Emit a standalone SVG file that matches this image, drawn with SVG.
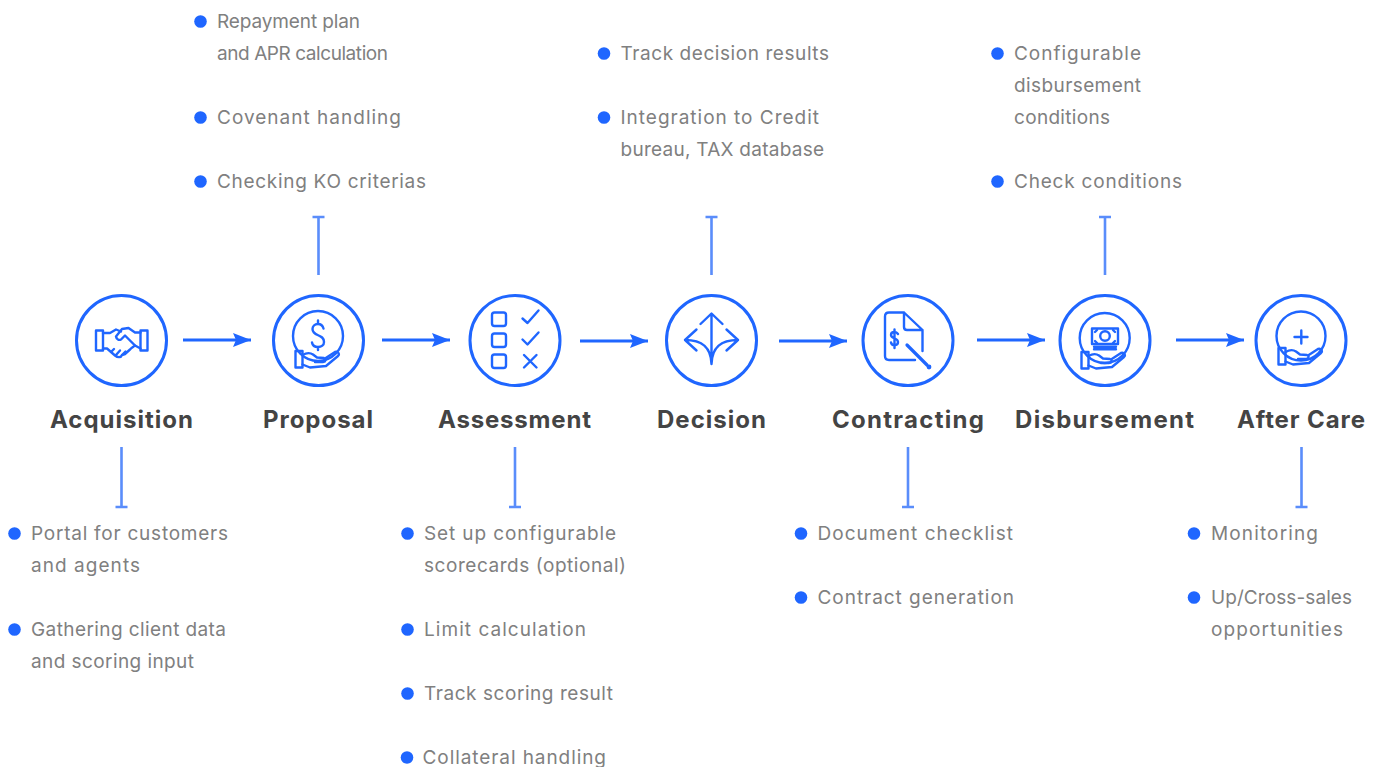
<svg xmlns="http://www.w3.org/2000/svg" width="1378" height="767" viewBox="0 0 1378 767">
<style>
.c{fill:#fff;stroke:#1f66ff;stroke-width:3}
.i{fill:none;stroke:#1f66ff;stroke-width:2.4;stroke-linecap:round;stroke-linejoin:round}
.d{fill:#1f66ff;stroke:none}
.b{fill:#1f66ff}
.t{font-family:"Inter","Liberation Sans",sans-serif;font-size:19px;fill:#808080}
.h{font-family:"Inter","Liberation Sans",sans-serif;font-size:24px;font-weight:700;fill:#444;text-anchor:middle}
.a{fill:none;stroke:#1f66ff;stroke-width:2.8;marker-end:url(#ah)}
.s{fill:none;stroke:#5a8dfb;stroke-width:2.6}
</style>
<defs>
<marker id="ah" markerUnits="userSpaceOnUse" markerWidth="20" markerHeight="14" refX="18" refY="7" orient="auto"><path d="M0 0L18 7L0 14L3 7Z" fill="#1f66ff"/></marker>
<g id="hand" class="i"><rect x="295.500" y="351" width="7" height="16.500"/><path d="M302.500 355C306 353 310 352.500 313 354.500L317 357.500L324 358C326.500 359 326 361.800 323 362L315 362M325 358.500L335 352C338 351 340 354 338 356L326 366L310 367.500L302.500 364.500"/></g>
</defs>
<g id="connectors">
<path class="a" d="M183 340H251"/><path class="a" d="M382 340H450"/><path class="a" d="M580 341H648"/><path class="a" d="M779 341H847"/><path class="a" d="M977 340H1045"/><path class="a" d="M1176 340H1244"/>
<path class="s" d="M318.500 275V217M312.500 217H324.500"/><path class="s" d="M711.500 275V217M705.500 217H717.500"/><path class="s" d="M1105 275V217M1099 217H1111"/>
<path class="s" d="M121.500 447V507M115.500 507H127.500"/><path class="s" d="M515 447V507M509 507H521"/><path class="s" d="M908 447V507M902 507H914"/><path class="s" d="M1301.500 447V507M1295.500 507H1307.500"/>
</g>
<g id="acquisition">
<circle class="c" cx="121.500" cy="340.500" r="45"/>
<g class="i"><rect x="96" y="330.500" width="7" height="20"/><rect x="140.500" y="330.500" width="7" height="20"/>
<path d="M103 333H110L116 329.500L121 331.500M140.500 332.500H135L128.500 328L122 329L116 336.500C116.500 339.500 119 340.500 121 339.500L125 335.500L135 345.500L140.500 348.500"/>
<path d="M103 348.500H107L115 355.500C118 358 121 357.500 122 355L125 354L130 349.500C132 347.500 134 346.500 135 345.500M111 352L114 349M116 355L120 350.500M122 355L125.500 351.500"/></g>
<text class="h" x="121.500" y="428" textLength="143">Acquisition</text></g>
<g id="proposal">
<circle class="c" cx="318.500" cy="340.500" r="45"/>
<circle class="i" cx="318" cy="336" r="25"/>
<path class="i" d="M323.500 328.500C322.500 325 320 324 318 324C314.500 324 312.500 326.500 312.500 329C312.500 337 324 333.500 324 342C324 345 321.500 347 318 347C315 347 312.500 345.500 312 342.500M318 320.500V324M318 347V350"/>
<use href="#hand"/>
<text class="h" x="318" y="428" textLength="110">Proposal</text></g>
<g id="assessment">
<circle class="c" cx="515" cy="340.500" r="45"/>
<g class="i"><rect x="492" y="312.500" width="14" height="13.500" rx="2.500"/><rect x="492" y="333.500" width="14" height="13.500" rx="2.500"/><rect x="492" y="354.500" width="14" height="13.500" rx="2.500"/>
<path d="M522.500 318.500L527.500 323L538.500 310.500M522.500 339.500L527.500 344.500L538.500 332.500M524 355L536.500 367.500M536.500 355L524 367.500"/></g>
<text class="h" x="514.500" y="428" textLength="153">Assessment</text></g>
<g id="decision">
<circle class="c" cx="711.500" cy="340.500" r="45"/>
<g class="i"><path d="M711.500 314V364M700.500 324L711.500 313.500L722.500 324M696.500 329.500L685 340L696.500 350.500M726.500 329.500L738 340L726.500 350.500M685 340C701 340 711 346 711.500 364C712 346 722 340 738 340"/></g>
<text class="h" x="711.500" y="428" textLength="109">Decision</text></g>
<g id="contracting">
<circle class="c" cx="908" cy="340.500" r="45"/>
<g class="i"><path d="M904 312.500H889C886.500 312.500 885 314 885 316.500V356C885 358.500 886.500 360 889 360H915M904 312.500V327C904 329 905 330 907 330H922.500L904 312.500M922.500 330V351"/>
<path d="M898 334C897 332.500 896 332 894.500 332C892.500 332 891 333.200 891 335C891 339 898 337.500 898 342C898 344 896.500 345.200 894.500 345.200C892.500 345.200 891.300 344.200 891 342.500M894.500 329.500V348"/>
<path d="M907 345L927 365" stroke-width="3.200"/></g>
<circle class="d" cx="929" cy="367" r="2.400"/>
<text class="h" x="908" y="428" textLength="152">Contracting</text></g>
<g id="disbursement">
<circle class="c" cx="1105" cy="340.500" r="45"/>
<circle class="i" cx="1104.700" cy="338" r="25"/>
<g class="i"><rect x="1092" y="328.500" width="26" height="15.500"/><circle cx="1105" cy="336" r="4.800"/><path d="M1095 332L1097 330M1115 332L1113 330M1095 341L1097 343M1115 341L1113 343M1094 346.700H1116M1094 349.300H1116"/></g>
<use href="#hand" x="786" y="1"/>
<text class="h" x="1104.500" y="428" textLength="179">Disbursement</text></g>
<g id="after-care">
<circle class="c" cx="1301" cy="340.500" r="45"/>
<circle class="i" cx="1301" cy="336" r="24.500"/>
<path class="i" d="M1294.500 337H1307.500M1301.300 330.500V343.500" stroke-width="2.600"/>
<use href="#hand" x="983" y="-3"/>
<text class="h" x="1301" y="428" textLength="128">After Care</text></g>
<g id="proposal-notes">
<circle class="b" cx="200.500" cy="21.500" r="6.300"/><circle class="b" cx="200.500" cy="117.500" r="6.300"/><circle class="b" cx="200.500" cy="181.500" r="6.300"/>
<text class="t" x="217" y="28" textLength="143">Repayment plan</text><text class="t" x="217" y="60" textLength="171">and APR calculation</text><text class="t" x="217" y="124" textLength="184">Covenant handling</text><text class="t" x="217" y="188" textLength="209">Checking KO criterias</text></g>
<g id="decision-notes">
<circle class="b" cx="604" cy="53.500" r="6.300"/><circle class="b" cx="604" cy="117.500" r="6.300"/>
<text class="t" x="620.500" y="60" textLength="208.500">Track decision results</text><text class="t" x="620.500" y="124" textLength="198.500">Integration to Credit</text><text class="t" x="620.500" y="156" textLength="203.500">bureau, TAX database</text></g>
<g id="disbursement-notes">
<circle class="b" cx="997.500" cy="53.500" r="6.300"/><circle class="b" cx="997.500" cy="181.500" r="6.300"/>
<text class="t" x="1014" y="60" textLength="127">Configurable</text><text class="t" x="1014" y="92" textLength="127">disbursement</text><text class="t" x="1014" y="124" textLength="96">conditions</text><text class="t" x="1014" y="188" textLength="168">Check conditions</text></g>
<g id="acquisition-notes">
<circle class="b" cx="14.500" cy="533.500" r="6.300"/><circle class="b" cx="14.500" cy="629.500" r="6.300"/>
<text class="t" x="31" y="540" textLength="197">Portal for customers</text><text class="t" x="31" y="572" textLength="109">and agents</text><text class="t" x="31" y="636" textLength="195">Gathering client data</text><text class="t" x="31" y="668" textLength="163">and scoring input</text></g>
<g id="assessment-notes">
<circle class="b" cx="407.500" cy="533.500" r="6.300"/><circle class="b" cx="407.500" cy="629.500" r="6.300"/><circle class="b" cx="407.500" cy="693.500" r="6.300"/><circle class="b" cx="407" cy="757.500" r="6.300"/>
<text class="t" x="424" y="540" textLength="192">Set up configurable</text><text class="t" x="424" y="572" textLength="202">scorecards (optional)</text><text class="t" x="424" y="636" textLength="162">Limit calculation</text><text class="t" x="424" y="700" textLength="189">Track scoring result</text><text class="t" x="422.500" y="764" textLength="183.500">Collateral handling</text></g>
<g id="contracting-notes">
<circle class="b" cx="801" cy="533.500" r="6.300"/><circle class="b" cx="801" cy="597.500" r="6.300"/>
<text class="t" x="817.500" y="540" textLength="195.500">Document checklist</text><text class="t" x="817.500" y="604" textLength="196.500">Contract generation</text></g>
<g id="after-care-notes">
<circle class="b" cx="1194" cy="533.500" r="6.300"/><circle class="b" cx="1194" cy="597.500" r="6.300"/>
<text class="t" x="1211" y="540" textLength="107">Monitoring</text><text class="t" x="1211" y="604" textLength="141">Up/Cross-sales</text><text class="t" x="1211" y="636" textLength="132">opportunities</text></g>
</svg>
